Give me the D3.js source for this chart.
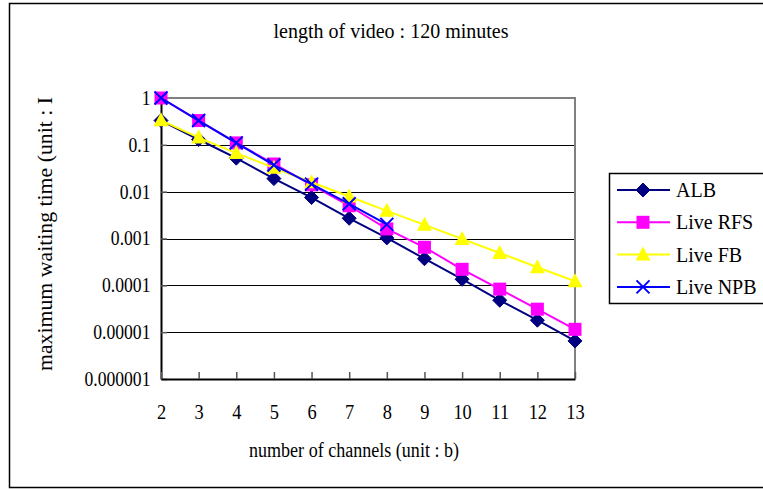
<!DOCTYPE html>
<html>
<head>
<meta charset="utf-8">
<script src="https://cdn.jsdelivr.net/npm/d3@7"></script>
<style>
  html, body { margin: 0; padding: 0; background: #fff; }
  svg { display: block; }
  text { font-family: "Liberation Serif", "Times New Roman", serif; fill: #000; }
</style>
</head>
<body>
<svg id="chart" width="763" height="489"></svg>
<script>
// Number of channels b on the x axis
const channels = [2, 3, 4, 5, 6, 7, 8, 9, 10, 11, 12, 13];

// Maximum waiting time per scheme (log scale)
const albValues = [0.33, 0.13, 0.052, 0.019, 0.0075, 0.0027, 0.00103, 0.00037, 0.000135, 0.000048, 0.000018, 0.0000065];
const rfsValues = [1, 0.33, 0.11, 0.039, 0.014, 0.005, 0.0016, 0.00065, 0.00022, 0.000083, 0.000031, 0.0000115];
const fbValues  = [0.333, 0.143, 0.0667, 0.0323, 0.0159, 0.0079, 0.0039, 0.00196, 0.00098, 0.00049, 0.000244, 0.000122];
const npbValues = [1, 0.33, 0.11, 0.037, 0.0145, 0.0055, 0.002];

const yTickValues = [1, 0.1, 0.01, 0.001, 0.0001, 0.00001, 0.000001];
const yTickLabels = ["1", "0.1", "0.01", "0.001", "0.0001", "0.00001", "0.000001"];

const seriesNames = ["ALB", "Live RFS", "Live FB", "Live NPB"];
const seriesColors = ["#000080", "#ff00ff", "#ffff00", "#0000ff"];
const seriesShapes = ["diamond", "square", "triangle", "cross"];
const seriesValues = [albValues, rfsValues, fbValues, npbValues];

const svg = d3.select("#chart");

const plot = { left: 161, right: 575, top: 98, bottom: 379 };

const x = d3.scaleLinear().domain([2, 13]).range([plot.left, plot.right]);
const y = d3.scaleLog().domain([1e-6, 1]).range([plot.bottom, plot.top]);

// Outer chart frame
svg.append("rect")
  .attr("x", 9.5).attr("y", 3.5)
  .attr("width", 800).attr("height", 484)
  .attr("fill", "#fff").attr("stroke", "#000").attr("stroke-width", 1.5);

// Title
svg.append("text")
  .attr("x", 391).attr("y", 38)
  .attr("text-anchor", "middle")
  .attr("font-size", 20)
  .text("length of video : 120 minutes");

// Horizontal gridlines
svg.append("g")
  .selectAll("line")
  .data(yTickValues.filter(v => v < 1 && v > 1e-6))
  .join("line")
  .attr("x1", plot.left).attr("x2", plot.right)
  .attr("y1", d => Math.round(y(d)) + 0.5).attr("y2", d => Math.round(y(d)) + 0.5)
  .attr("stroke", "#000").attr("stroke-width", 1);

// Plot area border (top and right)
svg.append("path")
  .attr("d", `M${plot.left},${plot.top}H${plot.right}V${plot.bottom}`)
  .attr("fill", "none").attr("stroke", "#808080").attr("stroke-width", 2);

// Y axis
const yAxis = d3.axisLeft(y)
  .tickValues(yTickValues)
  .tickFormat((d, i) => yTickLabels[i])
  .tickSizeInner(-6)
  .tickSizeOuter(0)
  .tickPadding(12);

const gy = svg.append("g")
  .attr("transform", `translate(${plot.left},0)`)
  .call(yAxis);
gy.select(".domain").attr("stroke", "#000").attr("stroke-width", 2);
gy.selectAll(".tick line").attr("stroke", "#555").attr("stroke-width", 1.5);
gy.selectAll(".tick text")
  .attr("font-size", 20)
  .attr("font-family", "Liberation Serif, Times New Roman, serif")
  .attr("fill", "#000")
  .attr("transform", "scale(0.88,1)");

// X axis
const xAxis = d3.axisBottom(x)
  .tickValues(channels)
  .tickFormat(d3.format("d"))
  .tickSizeInner(-7)
  .tickSizeOuter(0)
  .tickPadding(26);

const gx = svg.append("g")
  .attr("transform", `translate(0,${plot.bottom})`)
  .call(xAxis);
gx.select(".domain").attr("stroke", "#000").attr("stroke-width", 2);
gx.selectAll(".tick line").attr("stroke", "#555").attr("stroke-width", 1.5);
gx.selectAll(".tick text")
  .attr("font-size", 20)
  .attr("font-family", "Liberation Serif, Times New Roman, serif")
  .attr("fill", "#000")
  .attr("transform", "scale(0.92,1)");

// Axis titles
svg.append("text")
  .attr("x", 354).attr("y", 457)
  .attr("text-anchor", "middle")
  .attr("font-size", 20)
  .attr("textLength", 210)
  .attr("lengthAdjust", "spacingAndGlyphs")
  .text("number of channels (unit : b)");

svg.append("text")
  .attr("transform", "translate(52,234) rotate(-90)")
  .attr("text-anchor", "middle")
  .attr("font-size", 21)
  .attr("textLength", 274)
  .attr("lengthAdjust", "spacingAndGlyphs")
  .text("maximum waiting time (unit : I");

// Marker drawing
function drawMarker(g, shape, color, cx, cy) {
  if (shape === "diamond") {
    g.append("path")
      .attr("d", `M${cx},${cy - 7}L${cx + 7},${cy}L${cx},${cy + 7}L${cx - 7},${cy}Z`)
      .attr("fill", color).attr("stroke", color).attr("stroke-width", 1);
  } else if (shape === "square") {
    g.append("rect")
      .attr("x", cx - 6.5).attr("y", cy - 6.5)
      .attr("width", 13).attr("height", 13)
      .attr("fill", color);
  } else if (shape === "triangle") {
    g.append("path")
      .attr("d", `M${cx},${cy - 8}L${cx + 7.5},${cy + 6}L${cx - 7.5},${cy + 6}Z`)
      .attr("fill", color);
  } else if (shape === "cross") {
    g.append("path")
      .attr("d", `M${cx - 6.5},${cy - 6.5}L${cx + 6.5},${cy + 6.5}M${cx + 6.5},${cy - 6.5}L${cx - 6.5},${cy + 6.5}`)
      .attr("stroke", color).attr("stroke-width", 2).attr("fill", "none");
  }
}

const line = d3.line()
  .x(d => x(d.b))
  .y(d => y(d.v));

// Series lines and markers
seriesValues.forEach((vals, i) => {
  const pts = vals.map((v, j) => ({ b: channels[j], v }));
  const g = svg.append("g");
  g.append("path")
    .datum(pts)
    .attr("d", line)
    .attr("fill", "none")
    .attr("stroke", seriesColors[i])
    .attr("stroke-width", 2);
  pts.forEach(p => drawMarker(g, seriesShapes[i], seriesColors[i], x(p.b), y(p.v)));
});

// Legend
const legend = svg.append("g");
legend.append("rect")
  .attr("x", 609.5).attr("y", 173.5)
  .attr("width", 200).attr("height", 130)
  .attr("fill", "#fff").attr("stroke", "#000").attr("stroke-width", 1.5);

seriesNames.forEach((name, i) => {
  const ly = 190 + i * 32.3;
  legend.append("line")
    .attr("x1", 617).attr("x2", 670)
    .attr("y1", ly).attr("y2", ly)
    .attr("stroke", seriesColors[i]).attr("stroke-width", 2);
  drawMarker(legend, seriesShapes[i], seriesColors[i], 643, ly);
  legend.append("text")
    .attr("x", 676).attr("y", ly + 7)
    .attr("font-size", 20)
    .text(name);
});
</script>
</body>
</html>
